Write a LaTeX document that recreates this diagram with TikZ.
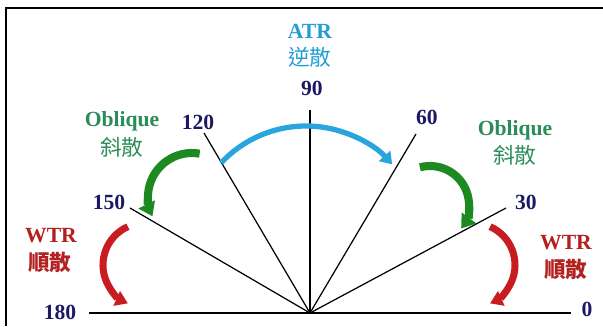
\documentclass[tikz,border=0pt]{standalone}
\usepackage{fontspec}
\setmainfont{Liberation Serif}
\newfontfamily\cjk{Noto Sans CJK TC}
\usetikzlibrary{arrows.meta}
\definecolor{rayNavy}{RGB}{27,24,100}
\definecolor{atrText}{RGB}{35,158,212}
\definecolor{atrBlue}{RGB}{40,165,220}
\definecolor{obqText}{RGB}{42,140,88}
\definecolor{obqGreen}{RGB}{28,138,32}
\definecolor{wtrText}{RGB}{178,32,32}
\definecolor{wtrRed}{RGB}{200,28,32}

\begin{document}
\begin{tikzpicture}[
  x=0.02cm, y=0.02cm,
  lab/.style={inner sep=0pt, font=\fontsize{12.3}{14}\selectfont\bfseries},
  zh/.style={inner sep=0pt, font=\cjk\fontsize{12.3}{14}\selectfont},
  zhb/.style={inner sep=0pt, font=\cjk\fontsize{12.3}{14}\selectfont\bfseries},
  num/.style={lab, text=rayNavy},
  ray/.style={line width=0.7pt},
  atrArr/.style={draw=atrBlue, line width=3pt, -{Triangle[width=8.5pt, length=6.5pt]}},
  obqArr/.style={draw=obqGreen, line width=4.6pt, -{Triangle[width=10pt, length=7.5pt]}},
  wtrArr/.style={draw=wtrRed, line width=4pt, -{Triangle[width=8.8pt, length=7pt]}},
]
\useasboundingbox (-310,-13) rectangle (293,313);
% frame
\draw[line width=1.1pt] (-304,-13) -- (-304,305) -- (293,305);
% rays
\coordinate (O) at (0,0);
\coordinate (r0) at (261,0);
\coordinate (r30) at (196,105);
\coordinate (r60) at (106,179);
\coordinate (r90) at (0,203);
\coordinate (r120) at (-106,180);
\coordinate (r150) at (-180,105);
\coordinate (r180) at (-221,0);
\foreach \a in {0,30,...,180}
  \draw[ray] (O) -- (r\a);
% angle labels
\node[num] (n0) at (277,4) {0};
\node[num] (n30) at (216,111) {30};
\node[num] (n60) at (117,196) {60};
\node[num] (n90) at (2,225) {90};
\node[num] (n120) at (-112,191) {120};
\node[num] (n150) at (-201,111) {150};
\node[num] (n180) at (-250,1) {180};
% scattering labels
\node[lab, text=atrText] (atr) at (0,282) {ATR};
\node[zh, text=atrText] (atrZh) at (0,256) {逆散};
\node[lab, text=obqText] (obqL) at (-188,192) {Oblique};
\node[zh, text=obqText] (obqLZh) at (-188,166) {斜散};
\node[lab, text=obqText] (obqR) at (205,183) {Oblique};
\node[zh, text=obqText] (obqRZh) at (205,158) {斜散};
\node[lab, text=wtrText] (wtrL) at (-259,77) {WTR};
\node[zhb, text=wtrText] (wtrLZh) at (-260,51) {順散};
\node[lab, text=wtrText] (wtrR) at (256,70) {WTR};
\node[zhb, text=wtrText] (wtrRZh) at (256,44) {順散};
% curved arrows
\coordinate (cAtr) at (-4,71);
\coordinate (cObqL) at (-118,116);
\coordinate (cObqR) at (120,108);
\coordinate (cWtrL) at (-165,48);
\coordinate (cWtrR) at (163,48);
\draw[atrArr] ([shift={(137:116)}]cAtr) arc[start angle=137, end angle=42, radius=116];
\draw[obqArr] ([shift={(80:44)}]cObqL) arc[start angle=80, end angle=206, radius=44];
\draw[obqArr] ([shift={(105:39)}]cObqR) arc[start angle=105, end angle=-37, radius=39];
\draw[wtrArr] ([shift={(114:42)}]cWtrL) arc[start angle=114, end angle=246, radius=42];
\draw[wtrArr] ([shift={(66:42)}]cWtrR) arc[start angle=66, end angle=-66, radius=42];
\end{tikzpicture}
\end{document}
